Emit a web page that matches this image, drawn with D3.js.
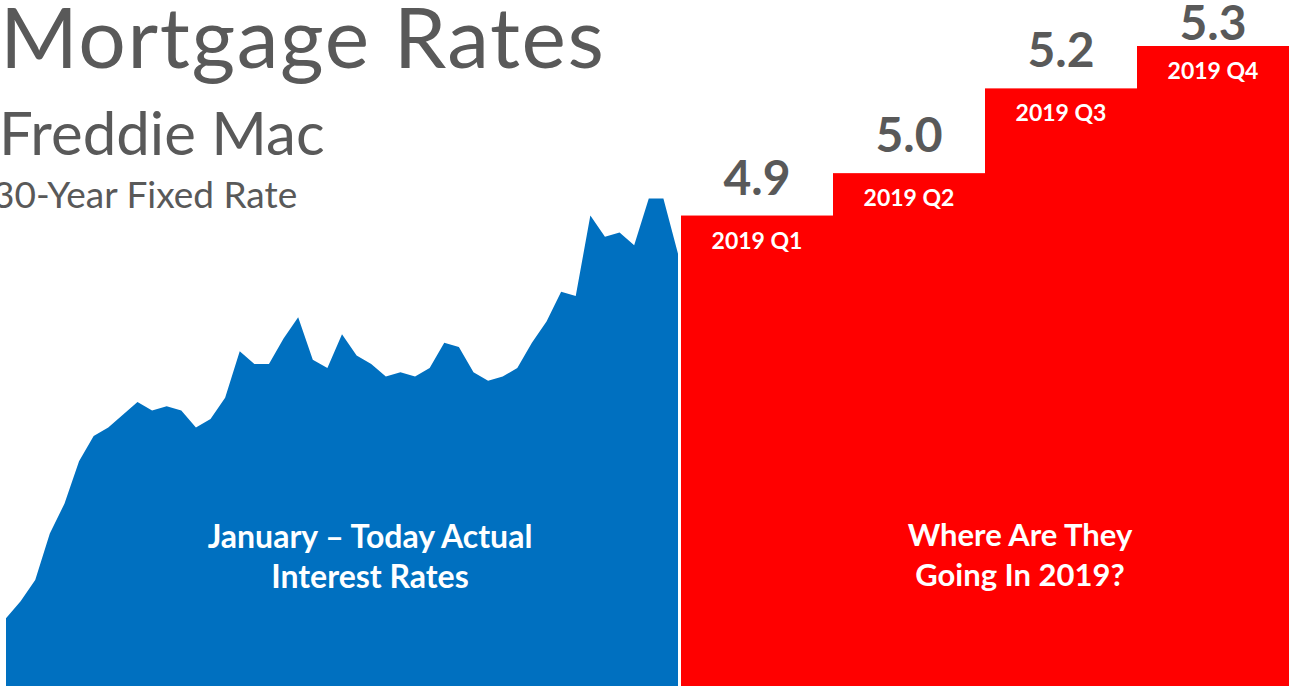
<!DOCTYPE html>
<html>
<head>
<meta charset="utf-8">
<script src="https://cdn.jsdelivr.net/npm/d3@7"></script>
<style>
  html, body { margin: 0; padding: 0; background: #fff; overflow: hidden; }
  svg { display: block; font-family: Lato, "Open Sans", sans-serif; }
</style>
</head>
<body>
<svg id="chart"></svg>
<script>
// weekly 30-year fixed rates, January to November 2018
const actualRates = [
  3.95, 3.99, 4.04, 4.15, 4.22, 4.32, 4.38, 4.40, 4.43, 4.46,
  4.44, 4.45, 4.44, 4.40, 4.42, 4.47, 4.58, 4.55, 4.55, 4.61,
  4.66, 4.56, 4.54, 4.62, 4.57, 4.55, 4.52, 4.53, 4.52, 4.54,
  4.60, 4.59, 4.53, 4.51, 4.52, 4.54, 4.60, 4.65, 4.72, 4.71,
  4.90, 4.85, 4.86, 4.83, 4.94, 4.94, 4.81
];
const quarters = ["2019 Q1", "2019 Q2", "2019 Q3", "2019 Q4"];
const forecast = [4.9, 5.0, 5.2, 5.3];

const width = 1289, height = 686;
const grey = "#595959";

const svg = d3.select("#chart").attr("width", width).attr("height", height);

const x = d3.scaleLinear().domain([0, actualRates.length - 1]).range([6, 678]);
const y = d3.scaleLinear().domain([3.79, 5.3]).range([height, 46]);
const xq = d3.scaleBand().domain(quarters).range([681, width]);

// blue area of actual rates
const area = d3.area()
  .x((d, i) => x(i))
  .y0(height)
  .y1(d => y(d));

svg.append("path")
  .datum(actualRates)
  .attr("fill", "#0070C0")
  .attr("d", area);

// red forecast steps
svg.selectAll("rect.q")
  .data(quarters)
  .join("rect")
  .attr("class", "q")
  .attr("x", d => xq(d))
  .attr("width", xq.bandwidth())
  .attr("y", (d, i) => y(forecast[i]))
  .attr("height", (d, i) => height - y(forecast[i]))
  .attr("fill", "#FF0000");

// the last value sits pressed against the top of the slide
svg.selectAll("text.val")
  .data(quarters)
  .join("text")
  .attr("class", "val")
  .attr("x", d => xq(d) + xq.bandwidth() / 2)
  .attr("y", (d, i) => Math.max(y(forecast[i]) - 21, 40))
  .attr("text-anchor", "middle")
  .attr("font-size", 48)
  .attr("font-weight", "bold")
  .attr("fill", grey)
  .text((d, i) => forecast[i].toFixed(1));

svg.selectAll("text.qlab")
  .data(quarters)
  .join("text")
  .attr("class", "qlab")
  .attr("x", d => xq(d) + xq.bandwidth() / 2)
  .attr("y", (d, i) => y(forecast[i]) + 33)
  .attr("text-anchor", "middle")
  .attr("font-size", 23)
  .attr("font-weight", "bold")
  .attr("fill", "#fff")
  .text(d => d);

// titles
svg.append("text").attr("x", 0).attr("y", 68)
  .attr("font-size", 84).attr("letter-spacing", 1.6)
  .attr("fill", grey).text("Mortgage Rates");
svg.append("text").attr("x", -1).attr("y", 155)
  .attr("font-size", 60).attr("fill", grey).text("Freddie Mac");
svg.append("text").attr("x", -7).attr("y", 208)
  .attr("font-size", 37).attr("fill", grey).text("30-Year Fixed Rate");

// notes in the areas
const noteLeft = ["January \u2013 Today Actual", "Interest Rates"];
const noteRight = ["Where Are They", "Going In 2019?"];

svg.selectAll("text.nl")
  .data(noteLeft)
  .join("text")
  .attr("class", "nl")
  .attr("x", 370)
  .attr("y", (d, i) => 548 + i * 40)
  .attr("text-anchor", "middle")
  .attr("font-size", 32)
  .attr("font-weight", "bold")
  .attr("fill", "#fff")
  .text(d => d);

svg.selectAll("text.nr")
  .data(noteRight)
  .join("text")
  .attr("class", "nr")
  .attr("x", 1020)
  .attr("y", (d, i) => 546 + i * 40)
  .attr("text-anchor", "middle")
  .attr("font-size", 31)
  .attr("font-weight", "bold")
  .attr("fill", "#fff")
  .text(d => d);
</script>
</body>
</html>
